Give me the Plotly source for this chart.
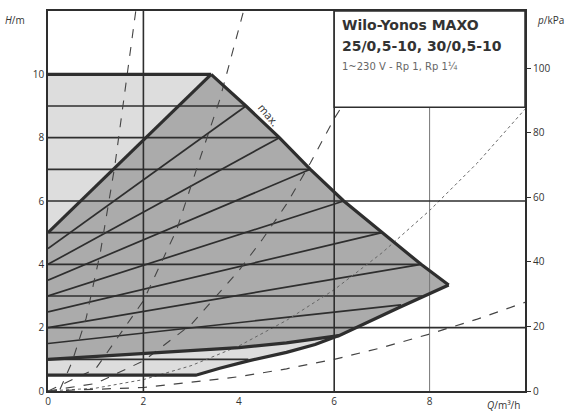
import plotly.graph_objects as go

# ---------------- data ----------------
# max curve (Q m3/h, H m)
max_q = [3.42, 4.15, 4.85, 5.5, 6.2, 7.0, 7.82, 8.4]
max_h = [10.0, 9.0, 8.0, 7.0, 6.0, 5.0, 4.0, 3.35]
# top limit line
top_q = [0.0, 3.42]
top_h = [10.0, 10.0]
# left boundary of dp-v field
dpv_top_q = [0.0, 3.42]
dpv_top_h = [5.0, 10.0]
# lower boundary of the dp-v field (from Q=0 to vertex)
dpv_low_q = [0.0, 2.0, 3.2, 4.0, 5.0, 6.1, 7.35, 8.4]
dpv_low_h = [1.0, 1.18, 1.3, 1.37, 1.52, 1.75, 2.63, 3.35]
# minimum curve (envelope bottom)
min_q = [0.0, 3.1, 3.6, 4.2, 5.0, 5.6, 6.1]
min_h = [0.5, 0.5, 0.72, 0.95, 1.22, 1.47, 1.75]
# dp-c lines (constant head): level and end flow
dpc_h = [1, 3, 4, 5, 7, 8, 9]
dpc_q_end = [4.2, 7.85, 7.82, 7.0, 5.5, 4.85, 4.15]
# dp-v lines: start head at Q=0, end point
dpv_h0 = [4.5, 4.0, 3.5, 3.0, 2.5, 2.0, 1.5]
dpv_q1 = [4.15, 4.85, 5.5, 6.2, 7.0, 7.82, 7.4]
dpv_h1 = [9.0, 8.0, 7.0, 6.0, 5.0, 4.0, 2.72]
# system curves (dashed)
sysA_q = [0.25, 0.5, 0.8, 1.1, 1.4, 1.65, 1.84]
sysA_h = [0.05, 0.9, 2.3, 4.4, 7.1, 9.9, 12.0]
sysB_q = [0.0, 1.0, 2.0, 2.7, 3.2, 3.6, 4.1]
sysB_h = [0.0, 0.7, 2.85, 5.1, 7.4, 9.2, 12.0]
sysC_q = [0.0, 1.0, 2.0, 3.0, 4.0, 4.5, 5.0, 5.5, 6.0, 6.15]
sysC_h = [0.0, 0.24, 0.95, 2.1, 3.8, 4.8, 5.9, 7.2, 8.6, 8.96]
sysD_q = [0.0, 1.0, 2.0, 3.0, 4.0, 5.0, 6.0, 7.0, 8.0, 9.0, 10.0]
sysD_h = [0.0, 0.09, 0.36, 0.8, 1.42, 2.23, 3.2, 4.36, 5.7, 7.2, 8.9]
sysE_q = [0.0, 2.0, 4.0, 5.0, 6.0, 7.0, 8.0, 9.0, 10.0]
sysE_h = [0.0, 0.11, 0.45, 0.7, 1.0, 1.37, 1.8, 2.27, 2.8]
# ticks
x_ticks = [0, 2, 4, 6, 8]
y_ticks = [0, 2, 4, 6, 8, 10]
p_ticks = [0, 20, 40, 60, 80, 100]
grid_q = [2, 6]
grid_h = [2, 6]
title_lines = ["Wilo-Yonos MAXO", "25/0,5-10, 30/0,5-10", "1~230 V - Rp 1, Rp 1¼"]

DARK = "#2e2e2e"
fig = go.Figure()

def line(q, h, width=1.5, color=DARK, dash="solid"):
    fig.add_trace(go.Scatter(x=q, y=h, mode="lines", hoverinfo="skip",
                             line=dict(color=color, width=width, dash=dash)))

# envelope (light gray)
env_q = min_q + dpv_low_q[-3:] + max_q[::-1] + top_q[::-1]
env_h = min_h + dpv_low_h[-3:] + max_h[::-1] + top_h[::-1]
fig.add_trace(go.Scatter(x=env_q, y=env_h, fill="toself", fillcolor="#dddddd",
                         mode="none", hoverinfo="skip"))
# dp-v field (darker gray)
dq = dpv_low_q + max_q[::-1] + dpv_top_q[::-1]
dh = dpv_low_h + max_h[::-1] + dpv_top_h[::-1]
fig.add_trace(go.Scatter(x=dq, y=dh, fill="toself", fillcolor="#ababab",
                         mode="none", hoverinfo="skip"))

# dp-c lines
for hh, qe in zip(dpc_h, dpc_q_end):
    line([0, qe], [hh, hh], 1.7)
# dp-v lines
for h0, q1, h1 in zip(dpv_h0, dpv_q1, dpv_h1):
    line([0, q1], [h0, h1], 1.7)

# system curves
line(sysA_q, sysA_h, 1.1, "#444", "dash")
line(sysB_q, sysB_h, 1.1, "#444", "dash")
line(sysC_q, sysC_h, 1.1, "#444", "dash")
line(sysD_q, sysD_h, 1.0, "#666", "dot")
line(sysE_q, sysE_h, 1.2, "#444", "dash")

# grid lines
for g in grid_q:
    line([g, g], [0, 12], 1.6)
line([8, 8], [0, 8.96], 1.0, "#777")
for g in grid_h:
    line([0, 10], [g, g], 1.6)

# thick boundaries
line(top_q, top_h, 3.2)
line(max_q, max_h, 3.2)
line(dpv_top_q, dpv_top_h, 3.2)
line(dpv_low_q, dpv_low_h, 3.2)
line(min_q, min_h, 3.2)

# dummy trace for right axis
fig.add_trace(go.Scatter(x=[0], y=[0], yaxis="y2", mode="markers",
                         marker=dict(opacity=0), hoverinfo="skip"))

# title box
fig.add_shape(type="rect", x0=6, x1=10, y0=8.96, y1=12, xref="x", yref="y",
              fillcolor="white", line=dict(color=DARK, width=1.5), layer="above")
fig.add_annotation(x=6.13, y=11.55, xref="x", yref="y", text="<b>" + title_lines[0] + "</b>",
                   showarrow=False, xanchor="left", yanchor="middle",
                   font=dict(family="DejaVu Sans", size=14, color="#333"))
fig.add_annotation(x=6.13, y=10.9, xref="x", yref="y", text="<b>" + title_lines[1] + "</b>",
                   showarrow=False, xanchor="left", yanchor="middle",
                   font=dict(family="DejaVu Sans", size=14, color="#333"))
fig.add_annotation(x=6.13, y=10.26, xref="x", yref="y", text=title_lines[2],
                   showarrow=False, xanchor="left", yanchor="middle",
                   font=dict(family="DejaVu Sans", size=10, color="#666"))

fig.add_annotation(x=4.62, y=8.72, xref="x", yref="y", text="max.", showarrow=False,
                   textangle=50, font=dict(family="Open Sans", size=11, color="#333"))

# axis titles
fig.add_annotation(x=-0.045, y=1.0, xref="paper", yref="paper", text="<i>H</i>/m",
                   showarrow=False, xanchor="right", yanchor="top",
                   font=dict(family="Open Sans", size=10, color="#333"))
fig.add_annotation(x=1.02, y=1.0, xref="paper", yref="paper", text="<i>p</i>/kPa",
                   showarrow=False, xanchor="left", yanchor="top",
                   font=dict(family="Open Sans", size=10, color="#333"))
fig.add_annotation(x=0.955, y=-0.037, xref="paper", yref="paper", text="<i>Q</i>/m³/h",
                   showarrow=False, xanchor="center", yanchor="middle",
                   font=dict(family="Open Sans", size=10, color="#333"))

axfont = dict(family="Open Sans", size=10, color="#333")
fig.update_layout(
    width=572, height=414,
    margin=dict(l=48, r=47, t=11, b=23),
    paper_bgcolor="white", plot_bgcolor="white",
    showlegend=False,
    xaxis=dict(range=[0, 10], tickvals=x_ticks, showgrid=False, zeroline=False,
               showline=True, mirror=True, linecolor=DARK, linewidth=1.5,
               ticks="", tickfont=axfont, automargin=False),
    yaxis=dict(range=[0, 12], tickvals=y_ticks, showgrid=False, zeroline=False,
               showline=True, mirror=True, linecolor=DARK, linewidth=1.5,
               ticks="", tickfont=axfont, automargin=False),
    yaxis2=dict(overlaying="y", side="right", range=[0, 12 * 9.81], tickvals=p_ticks,
                showgrid=False, zeroline=False, showline=False, ticks="outside",
                ticklen=5, tickcolor=DARK, tickwidth=1, tickfont=axfont, automargin=False),
)

fig.write_html("out.html", config={"displayModeBar": False},
               post_script="document.body.style.margin='0';document.body.style.padding='0';")
